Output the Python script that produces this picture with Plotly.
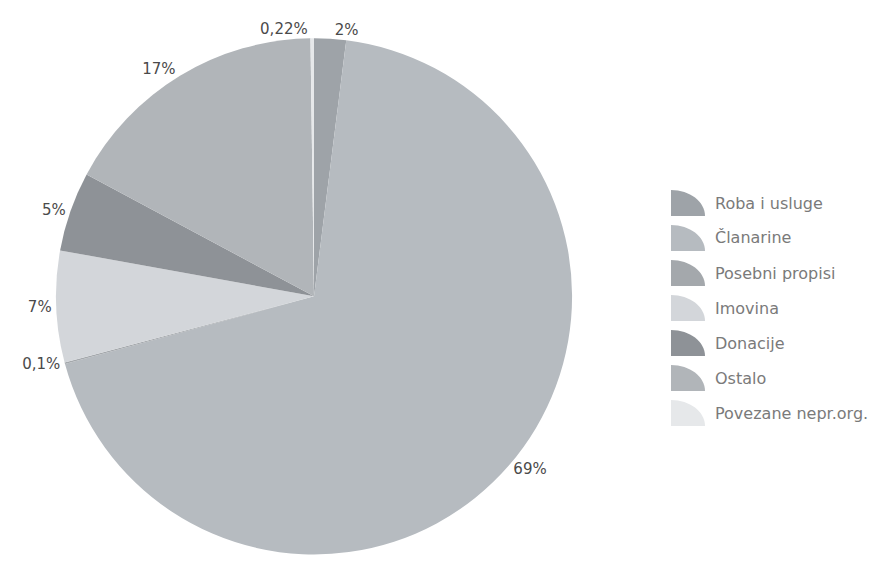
import plotly.graph_objects as go

# udio prihoda po izvorima
kategorije = ['Roba i usluge', 'Članarine', 'Posebni propisi', 'Imovina',
              'Donacije', 'Ostalo', 'Povezane nepr.org.']
udjeli = [2, 69, 0.1, 7, 5, 17, 0.22]
oznake = ['2%', '69%', '0,1%', '7%', '5%', '17%', '0,22%']
boje = ['#9ea3a8', '#b6bbc0', '#a4a8ac', '#d3d6da', '#8e9297', '#b1b5b9', '#e6e8ea']

W, H = 887, 561

fig = go.Figure()

fig.add_trace(go.Pie(
    labels=kategorije,
    values=udjeli,
    text=oznake,
    texttemplate='%{text}',
    textposition='outside',
    textfont=dict(family='DejaVu Sans', size=15, color='#4a4a4a'),
    marker=dict(colors=boje, line=dict(width=0)),
    sort=False,
    direction='clockwise',
    rotation=0,
    domain=dict(x=[0.054, 0.636], y=[0.026, 0.946]),
    showlegend=False,
    hoverinfo='label+percent',
))

# legenda s oblikom isječka
shapes = []
annotations = []
for i, (naziv, boja) in enumerate(zip(kategorije, boje)):
    yc = 195 + i * 35
    x0, x1 = 663, 697
    yb, yt = yc + 13, yc - 13
    k = 0.552
    path = (f'M {x0/W},{1-yb/H} L {x0/W},{1-yt/H} '
            f'C {(x0+k*(x1-x0))/W},{1-yt/H} {x1/W},{1-(yb-k*(yb-yt))/H} {x1/W},{1-yb/H} Z')
    shapes.append(dict(type='path', xref='paper', yref='paper', path=path,
                       fillcolor=boja, line=dict(width=0)))
    annotations.append(dict(x=705/W, y=1-yc/H, xref='paper', yref='paper',
                            text=naziv, showarrow=False, xanchor='left', yanchor='middle',
                            font=dict(family='DejaVu Sans', size=16, color='#7a7a7a')))

fig.update_layout(
    width=W, height=H,
    margin=dict(l=0, r=0, t=0, b=0),
    paper_bgcolor='white',
    plot_bgcolor='white',
    shapes=shapes,
    annotations=annotations,
)

fig.write_html('out.html')
